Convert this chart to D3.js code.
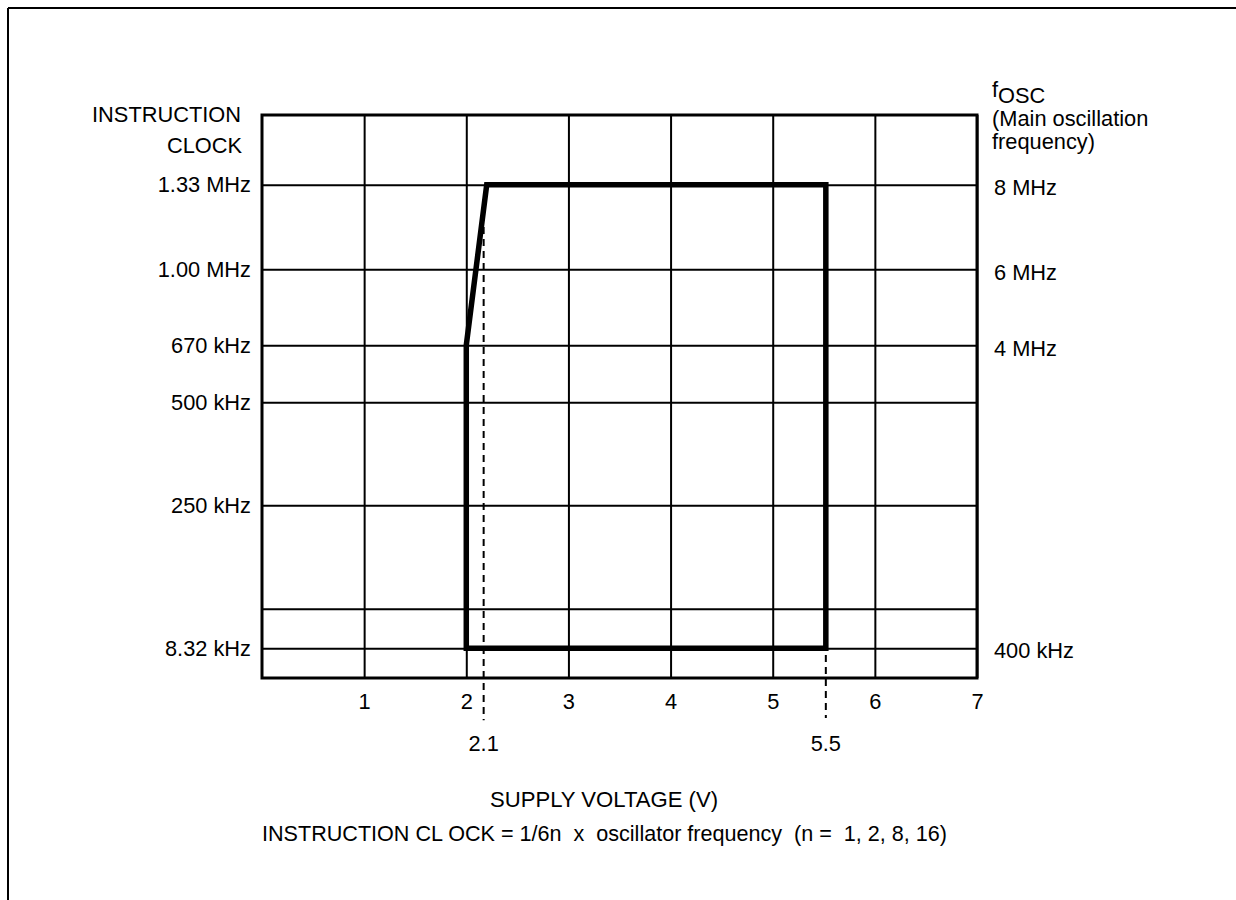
<!DOCTYPE html>
<html>
<head>
<meta charset="utf-8">
<script src="https://cdn.jsdelivr.net/npm/d3@7"></script>
<style>
  html, body { margin: 0; padding: 0; background: #fff; }
  svg { display: block; }
  text { font-family: "Liberation Sans", Arial, sans-serif; fill: #000; white-space: pre; }
</style>
</head>
<body>
<svg id="chart" width="1236" height="900"></svg>
<script>
// ---- data ----
const voltageTicks = [1, 2, 3, 4, 5, 6, 7];
// vertical axis is schematic: each level's position in percent of the axis height
const levelPos     = [5.3, 12.3, 30.7, 49.0, 59.1, 72.6, 87.6];
const clockLabels  = ["8.32 kHz", "", "250 kHz", "500 kHz", "670 kHz", "1.00 MHz", "1.33 MHz"];
const oscLabels    = ["400 kHz", "", "", "", "4 MHz", "6 MHz", "8 MHz"];
// operating-area boundary (supply voltage, level index)
const boundaryV     = [2.0, 2.0, 2.2, 5.52, 5.52, 2.0];
const boundaryLevel = [0, 4, 6, 6, 0, 0];
// dashed voltage markers
const markerLabels = ["2.1", "5.5"];
const markerV      = [2.17, 5.52];
const markerTop    = [80.1, 4.1];
const markerBottom = [-7.5, -7.1];

// ---- layout ----
const svg = d3.select("#chart");
const L = 262, R = 977, T = 115, B = 678;
const FS = 21.8;
const FF = "Liberation Sans, Arial, sans-serif";

const x = d3.scaleLinear().domain([0, 7]).range([L, R]);
const y = d3.scaleLinear().domain([0, 100]).range([B, T]);

// outer frame (partial, as in reference)
svg.append("line").attr("x1", 8).attr("y1", 8).attr("x2", 1236).attr("y2", 8)
  .attr("stroke", "#000").attr("stroke-width", 2);
svg.append("line").attr("x1", 8).attr("y1", 8).attr("x2", 8).attr("y2", 900)
  .attr("stroke", "#000").attr("stroke-width", 2);

// vertical grid + x tick labels
const gx = svg.append("g").attr("transform", `translate(0,${B})`)
  .call(d3.axisBottom(x).tickValues(voltageTicks).tickFormat(d3.format("d"))
    .tickSize(-(B - T)).tickPadding(16));
gx.select(".domain").remove();
gx.selectAll(".tick line").attr("stroke", "#000").attr("stroke-width", 2);
gx.selectAll(".tick text").attr("font-size", FS).attr("font-family", FF).attr("fill", "#000");

// horizontal grid + left labels
const gy = svg.append("g").attr("transform", `translate(${L},0)`)
  .call(d3.axisLeft(y).tickValues(levelPos).tickFormat((d, i) => clockLabels[i])
    .tickSize(-(R - L)).tickPadding(11));
gy.select(".domain").remove();
gy.selectAll(".tick line").attr("stroke", "#000").attr("stroke-width", 2);
gy.selectAll(".tick text").attr("font-size", FS).attr("font-family", FF).attr("fill", "#000");

// right labels (oscillator frequency)
const gr = svg.append("g").attr("transform", `translate(${R},0)`)
  .call(d3.axisRight(y).tickValues(levelPos).tickFormat((d, i) => oscLabels[i])
    .tickSize(0).tickPadding(17));
gr.select(".domain").remove();
gr.selectAll(".tick text").attr("font-size", FS).attr("font-family", FF)
  .attr("fill", "#000").attr("dy", "0.45em");

// plot border
svg.append("rect").attr("x", L).attr("y", T).attr("width", R - L).attr("height", B - T)
  .attr("fill", "none").attr("stroke", "#000").attr("stroke-width", 3);

// dashed markers
markerV.forEach((v, i) => {
  svg.append("line")
    .attr("x1", x(v)).attr("x2", x(v))
    .attr("y1", y(markerTop[i])).attr("y2", y(markerBottom[i]))
    .attr("stroke", "#000").attr("stroke-width", 2).attr("stroke-dasharray", "7,5");
  svg.append("text").attr("x", x(v)).attr("y", 751).attr("text-anchor", "middle")
    .attr("font-size", FS).text(markerLabels[i]);
});

// operating area boundary
const pts = boundaryV.map((v, i) => [x(v), y(levelPos[boundaryLevel[i]])]);
svg.append("path").attr("d", d3.line()(pts))
  .attr("fill", "none").attr("stroke", "#000").attr("stroke-width", 5.5)
  .attr("stroke-linejoin", "miter").attr("stroke-linecap", "square");

// titles
svg.append("text").attr("x", 241).attr("y", 122).attr("text-anchor", "end").attr("font-size", FS).text("INSTRUCTION");
svg.append("text").attr("x", 242).attr("y", 153).attr("text-anchor", "end").attr("font-size", FS).text("CLOCK");

const fo = svg.append("text").attr("x", 992).attr("y", 97).attr("font-size", FS);
fo.append("tspan").text("f");
fo.append("tspan").attr("dy", 6).text("OSC");
svg.append("text").attr("x", 992).attr("y", 126).attr("font-size", FS).text("(Main oscillation");
svg.append("text").attr("x", 992).attr("y", 149).attr("font-size", FS).text("frequency)");

svg.append("text").attr("x", 490).attr("y", 807).attr("font-size", 22.5)
  .attr("textLength", 228).attr("lengthAdjust", "spacingAndGlyphs")
  .text("SUPPLY VOLTAGE (V)");
svg.append("text").attr("x", 262).attr("y", 841).attr("font-size", 22.5)
  .attr("textLength", 685).attr("lengthAdjust", "spacingAndGlyphs")
  .text("INSTRUCTION CL OCK = 1/6n  x  oscillator frequency  (n =  1, 2, 8, 16)");
</script>
</body>
</html>
